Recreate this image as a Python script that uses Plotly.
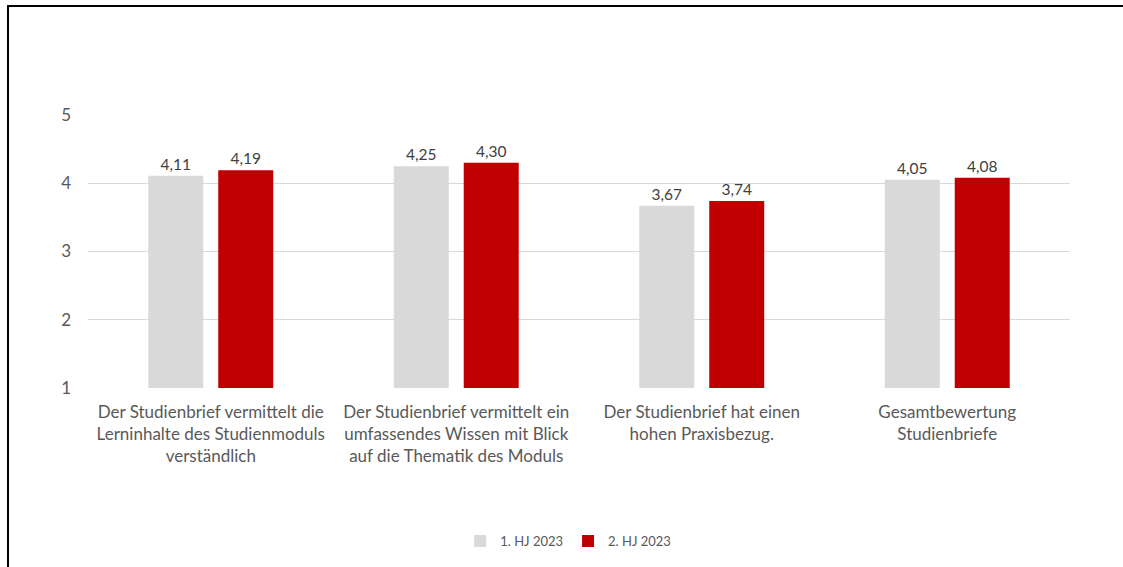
import plotly.graph_objects as go

categories = [
    "Der Studienbrief vermittelt die<br>Lerninhalte des Studienmoduls<br>verständlich",
    "Der Studienbrief vermittelt ein<br>umfassendes Wissen mit Blick<br>auf die Thematik des Moduls",
    "Der Studienbrief hat einen<br>hohen Praxisbezug.",
    "Gesamtbewertung<br>Studienbriefe",
]
series_names = ["1. HJ 2023", "2. HJ 2023"]
values_h1 = [4.11, 4.25, 3.67, 4.05]
values_h2 = [4.19, 4.30, 3.74, 4.08]
y_ticks = [1, 2, 3, 4, 5]
axis_min = 1

FONT = "Lato"
colors = ["#d9d9d9", "#c00000"]

fig = go.Figure()
for name, vals, col in zip(series_names, [values_h1, values_h2], colors):
    fig.add_trace(go.Bar(
        x=categories, y=[v - axis_min for v in vals], base=axis_min, name=name,
        marker_color=col, marker_line_width=0,
        customdata=vals, texttemplate="%{customdata:.2f}",
        hovertemplate="%{customdata:.2f}<extra>" + name + "</extra>",
        textposition="outside", cliponaxis=False,
        textfont=dict(family=FONT, size=15.5, color="#404040"),
    ))

W, H = 1123, 567
L, R, T, B = 88, 1070, 115, 389
fig.update_layout(
    width=W, height=H,
    margin=dict(l=L, r=W - R, t=T, b=H - B),
    paper_bgcolor="white", plot_bgcolor="white",
    separators=",.",
    barmode="group", bargap=0.43, bargroupgap=0.214,
    font=dict(family=FONT, color="#595959"),
    showlegend=True,
    legend=dict(orientation="h", x=0.489, xanchor="center", y=(B - 541) / (B - T), yanchor="middle",
                font=dict(size=13, color="#595959"), traceorder="normal"),
    xaxis=dict(showgrid=False, showline=False, ticks="", ticklabelstandoff=12,
               tickfont=dict(size=17, color="#595959")),
    yaxis=dict(range=[1, 5], tickvals=y_ticks, ticktext=[str(t) for t in y_ticks],
               showgrid=True, gridcolor="#d9d9d9", gridwidth=1, zeroline=False,
               showline=False, ticks="", ticklabelstandoff=16,
               tickfont=dict(size=17, color="#595959")),
)

def px_x(px):
    return (px - L) / (R - L)

def px_y(py):
    return (B - py) / (B - T)

fig.add_shape(type="line", xref="paper", yref="paper", x0=px_x(8), x1=px_x(8), y0=px_y(5), y1=px_y(575),
              line=dict(color="black", width=2))
fig.add_shape(type="line", xref="paper", yref="paper", x0=px_x(7), x1=px_x(1130), y0=px_y(5.5), y1=px_y(5.5),
              line=dict(color="black", width=2))

fig.write_html("out.html")
